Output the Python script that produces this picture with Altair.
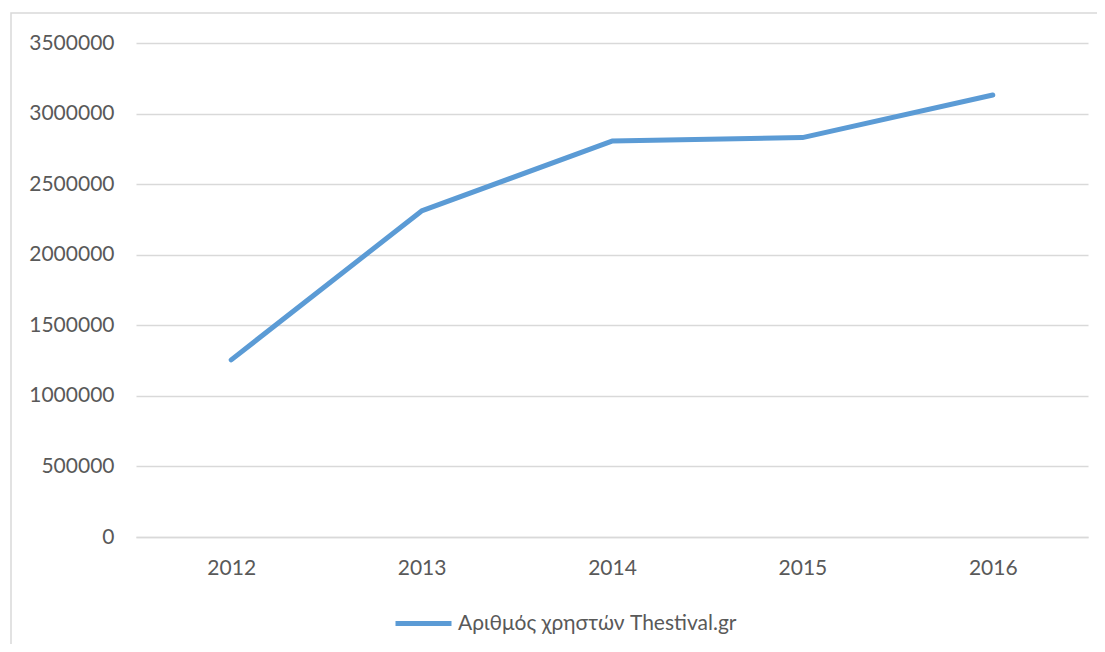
import altair as alt
import pandas as pd

years = ["2012", "2013", "2014", "2015", "2016"]
users = [1255000, 2310000, 2805000, 2830000, 3132000]
series_name = "Αριθμός χρηστών Thestival.gr"
y_ticks = [0, 500000, 1000000, 1500000, 2000000, 2500000, 3000000, 3500000]

df = pd.DataFrame({"year": years, "users": users, "series": [series_name] * len(years)})

FONT = "Lato"
GRAY = "#595959"
GRID = "#D9D9D9"
BLUE = "#5B9BD5"

line = alt.Chart(df).mark_line(strokeWidth=5, strokeCap="round", strokeJoin="round").encode(
    x=alt.X("year:N", sort=years, title=None,
            scale=alt.Scale(paddingInner=0, paddingOuter=0.5),
            axis=alt.Axis(labelAngle=0, labelFont=FONT, labelFontSize=21, labelColor=GRAY,
                          labelPadding=20, ticks=False, domain=True, domainColor=GRID,
                          domainWidth=1.5, grid=False)),
    y=alt.Y("users:Q", title=None,
            scale=alt.Scale(domain=[0, 3500000], nice=False),
            axis=alt.Axis(values=y_ticks, format="d", labelFont=FONT, labelFontSize=21,
                          labelColor=GRAY, labelPadding=22, ticks=False, domain=False,
                          grid=True, gridColor=GRID, gridWidth=1.5)),
    color=alt.Color("series:N", scale=alt.Scale(range=[BLUE]), title=None,
                    legend=alt.Legend(orient="none", legendX=257, legendY=550,
                                      symbolType="stroke", symbolSize=3136,
                                      symbolStrokeWidth=5, labelFont=FONT,
                                      labelFontSize=21, labelColor=GRAY, labelOffset=4,
                                      labelLimit=0)),
)

frame_df = pd.DataFrame({"k": [0]})
frame = alt.Chart(frame_df).mark_rect(fill=None, stroke=GRID, strokeWidth=1.5).encode(
    x=alt.value(-125), x2=alt.value(1100), y=alt.value(-30), y2=alt.value(800)
)

chart = alt.layer(frame, line).properties(
    width=952, height=494,
    padding={"left": 128, "top": 35, "right": 9, "bottom": 107},
    autosize=alt.AutoSizeParams(type="none"),
).configure_view(stroke=None)

chart.save("out.html", embed_options={"renderer": "svg", "actions": False})
